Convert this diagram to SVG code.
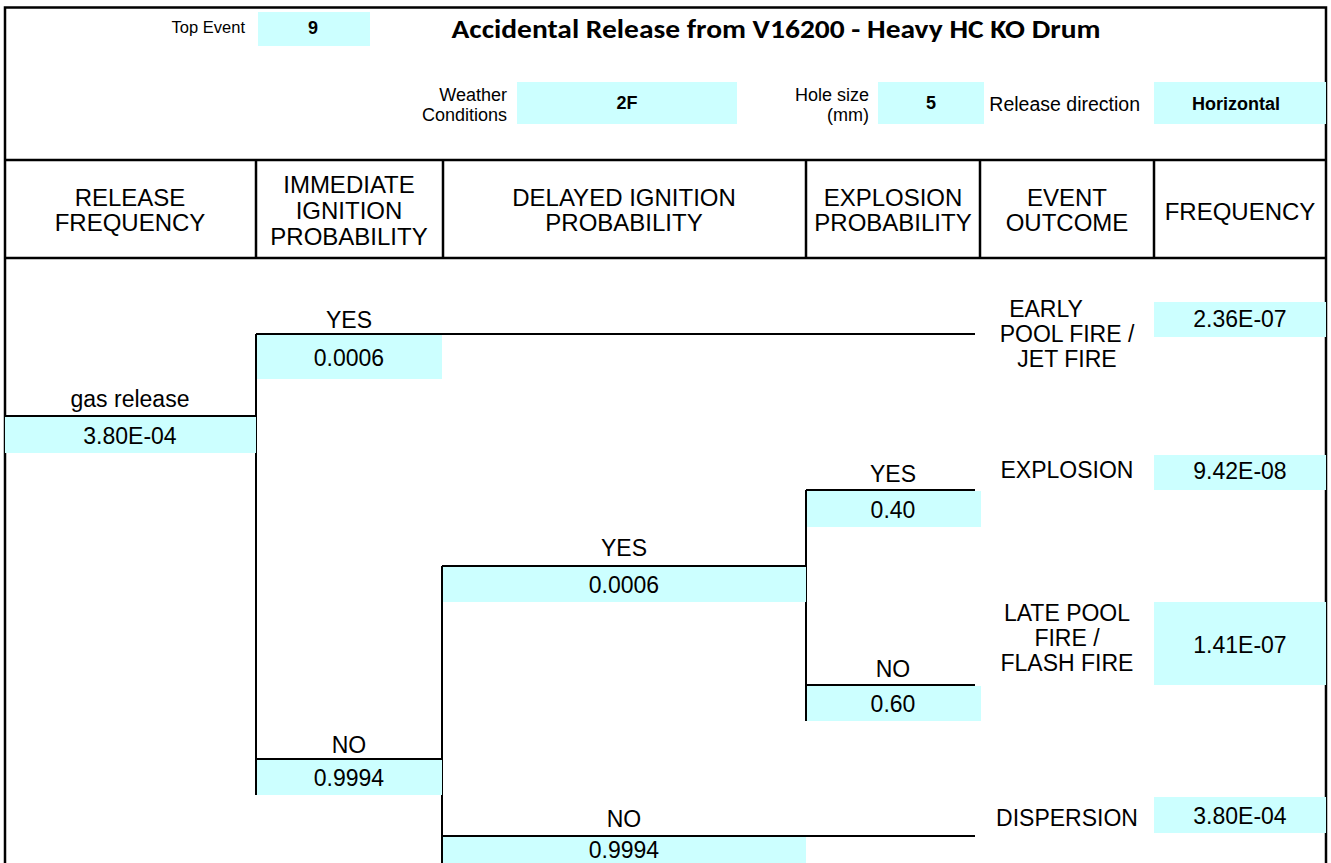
<svg xmlns="http://www.w3.org/2000/svg" width="1331" height="863" viewBox="0 0 1331 863">
<style>
  text { font-family: "Liberation Sans", Arial, sans-serif; fill: #000; }
  .t { font-size: 23px; text-anchor: middle; }
  .h { font-size: 24px; text-anchor: middle; }
  .s { font-size: 18px; text-anchor: end; }
  .v { font-size: 18px; font-weight: bold; text-anchor: middle; }
  .title { font-family: Carlito, Lato, "Open Sans", sans-serif; font-size: 26px; font-weight: bold; text-anchor: middle; }
  .box { fill: #CCFFFF; }
  .ln { stroke: #000; stroke-width: 2; fill: none; }
  .bd { stroke: #000; stroke-width: 2.5; fill: none; }
</style>
<rect width="1331" height="863" fill="#fff"/>

<g id="frame">
  <path class="bd" d="M5 863 V7.5 H1326 V863"/>
  <path class="bd" d="M5 160 H1326 M5 258 H1326"/>
  <path class="bd" d="M256 160 V258 M443 160 V258 M806 160 V258 M980 160 V258 M1154 160 V258"/>
</g>

<g id="header">
  <text class="s" x="245" y="33" style="font-size:16.5px">Top Event</text>
  <rect class="box" x="258" y="12" width="112" height="34"/>
  <text class="v" x="313" y="34">9</text>
  <text class="title" x="776" y="38" textLength="649" lengthAdjust="spacingAndGlyphs">Accidental Release from V16200 - Heavy HC KO Drum</text>
  <text class="s" x="507" y="101">Weather</text>
  <text class="s" x="507" y="121">Conditions</text>
  <rect class="box" x="517" y="82" width="220" height="42"/>
  <text class="v" x="627" y="109">2F</text>
  <text class="s" x="869" y="101">Hole size</text>
  <text class="s" x="869" y="121">(mm)</text>
  <rect class="box" x="878" y="82" width="106" height="42"/>
  <text class="v" x="931" y="109">5</text>
  <text class="s" x="1140" y="111" style="font-size:19.5px">Release direction</text>
  <rect class="box" x="1154" y="82" width="172" height="42"/>
  <text class="v" x="1236" y="110">Horizontal</text>
</g>

<g id="column-headers">
  <text class="h" x="130" y="206">RELEASE</text>
  <text class="h" x="130" y="231">FREQUENCY</text>
  <text class="h" x="349" y="193">IMMEDIATE</text>
  <text class="h" x="349" y="219">IGNITION</text>
  <text class="h" x="349" y="245">PROBABILITY</text>
  <text class="h" x="624" y="206">DELAYED IGNITION</text>
  <text class="h" x="624" y="231">PROBABILITY</text>
  <text class="h" x="893" y="206">EXPLOSION</text>
  <text class="h" x="893" y="231">PROBABILITY</text>
  <text class="h" x="1067" y="206">EVENT</text>
  <text class="h" x="1067" y="231">OUTCOME</text>
  <text class="h" x="1240" y="220">FREQUENCY</text>
</g>

<g id="connectors">
  <path class="ln" d="M256 334 V795"/>
  <path class="ln" d="M442 566 V863"/>
  <path class="ln" d="M806 490 V721"/>
</g>

<g id="release">
  <text class="t" x="130" y="407">gas release</text>
  <rect class="box" x="5" y="417" width="251" height="36"/>
  <path class="ln" d="M5 416 H256"/>
  <text class="t" x="130" y="444">3.80E-04</text>
</g>

<g id="immediate-yes">
  <text class="t" x="349" y="328">YES</text>
  <rect class="box" x="257" y="335" width="185" height="44"/>
  <path class="ln" d="M256 334 H975"/>
  <text class="t" x="349" y="366">0.0006</text>
</g>

<g id="immediate-no">
  <text class="t" x="349" y="753">NO</text>
  <rect class="box" x="257" y="760" width="185" height="35"/>
  <path class="ln" d="M256 759 H442"/>
  <text class="t" x="349" y="786">0.9994</text>
</g>

<g id="delayed-yes">
  <text class="t" x="624" y="556">YES</text>
  <rect class="box" x="443" y="567" width="363" height="35"/>
  <path class="ln" d="M442 566 H806"/>
  <text class="t" x="624" y="593">0.0006</text>
</g>

<g id="delayed-no">
  <text class="t" x="624" y="827">NO</text>
  <rect class="box" x="443" y="837" width="363" height="30"/>
  <path class="ln" d="M442 836 H975"/>
  <text class="t" x="624" y="858">0.9994</text>
</g>

<g id="explosion-yes">
  <text class="t" x="893" y="482">YES</text>
  <rect class="box" x="807" y="491" width="174" height="36"/>
  <path class="ln" d="M806 490 H975"/>
  <text class="t" x="893" y="518">0.40</text>
</g>

<g id="explosion-no">
  <text class="t" x="893" y="677">NO</text>
  <rect class="box" x="807" y="686" width="174" height="35"/>
  <path class="ln" d="M806 685 H975"/>
  <text class="t" x="893" y="712">0.60</text>
</g>

<g id="outcome-early-fire">
  <text class="t" x="1046" y="317">EARLY</text>
  <text class="t" x="1067" y="342">POOL FIRE /</text>
  <text class="t" x="1067" y="367">JET FIRE</text>
  <rect class="box" x="1154" y="302" width="172" height="35"/>
  <text class="t" x="1240" y="327">2.36E-07</text>
</g>

<g id="outcome-explosion">
  <text class="t" x="1067" y="478">EXPLOSION</text>
  <rect class="box" x="1154" y="455" width="172" height="35"/>
  <text class="t" x="1240" y="479">9.42E-08</text>
</g>

<g id="outcome-late-fire">
  <text class="t" x="1067" y="621">LATE POOL</text>
  <text class="t" x="1067" y="646">FIRE /</text>
  <text class="t" x="1067" y="671">FLASH FIRE</text>
  <rect class="box" x="1154" y="602" width="172" height="83"/>
  <text class="t" x="1240" y="653">1.41E-07</text>
</g>

<g id="outcome-dispersion">
  <text class="t" x="1067" y="826">DISPERSION</text>
  <rect class="box" x="1154" y="797" width="172" height="36"/>
  <text class="t" x="1240" y="824">3.80E-04</text>
</g>
</svg>
